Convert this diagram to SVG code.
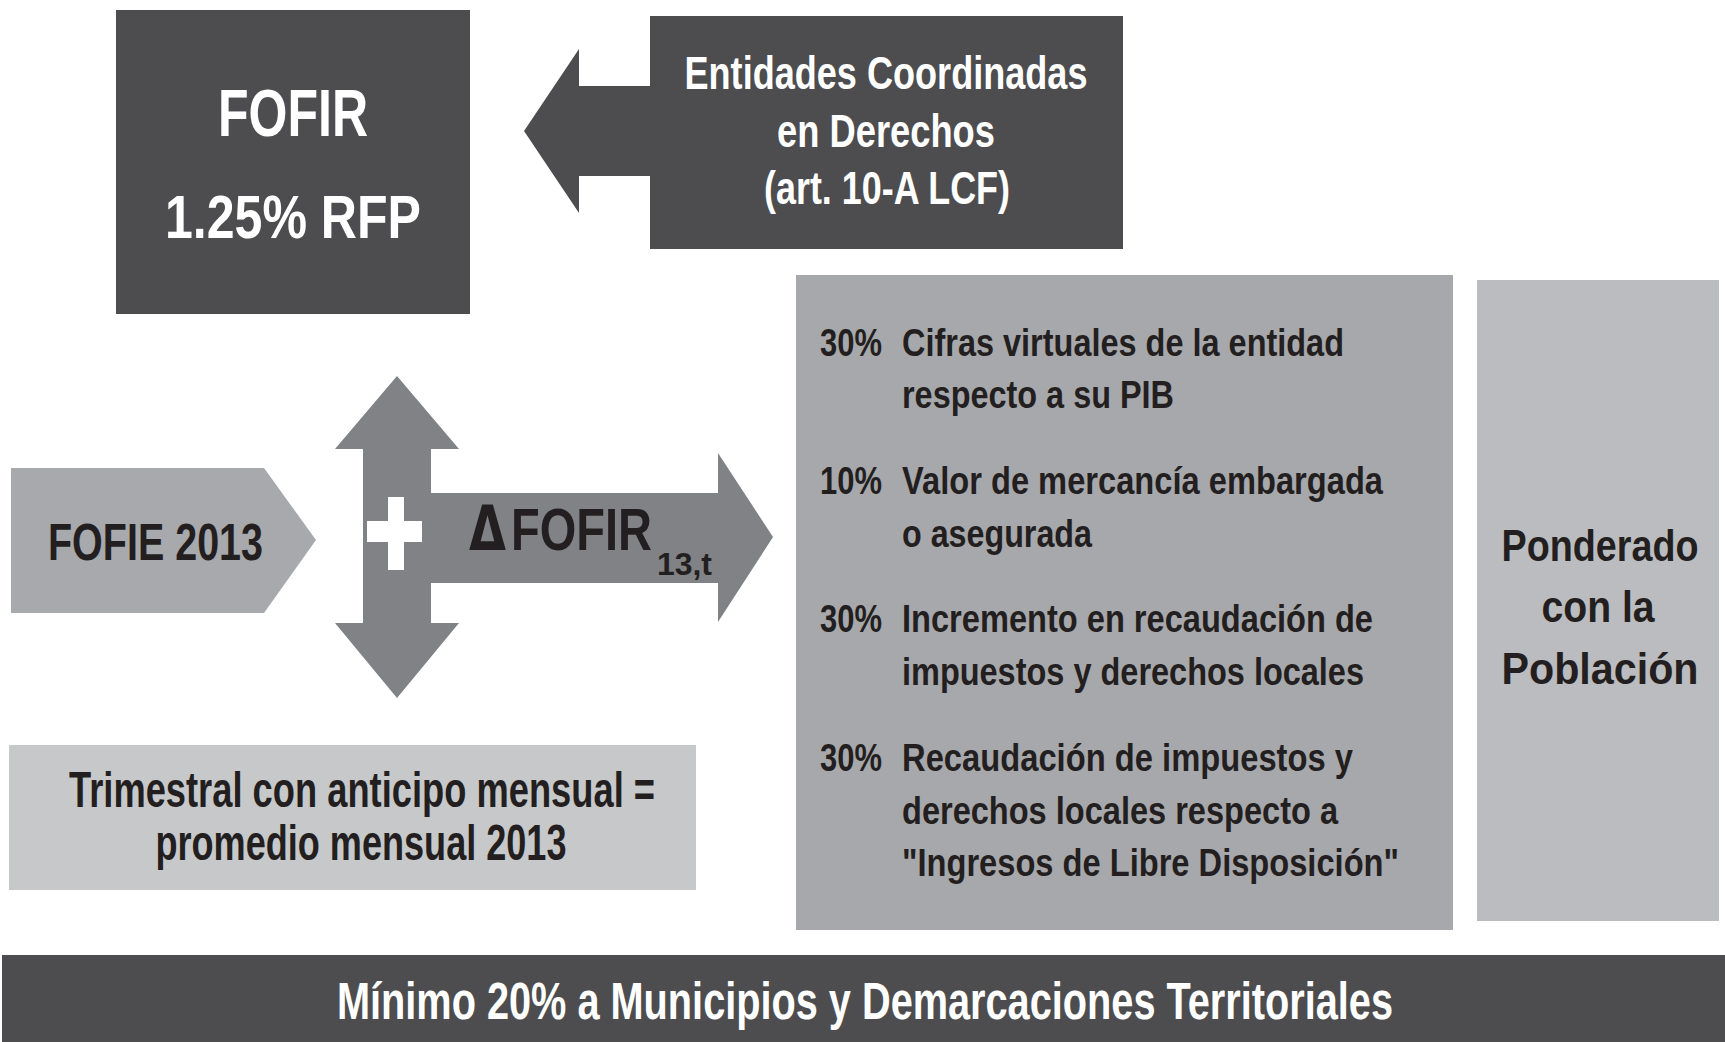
<svg xmlns="http://www.w3.org/2000/svg" width="1725" height="1042" viewBox="0 0 1725 1042">
<style>
.t{font-family:'Liberation Sans Narrow','Liberation Sans',Arial,sans-serif;font-weight:bold}
.m{text-anchor:middle}
.w{fill:#ffffff}
.k{fill:#231f20}
.dk{fill:#4d4d4f}
.arr{fill:#808285}
.b{font-size:39px}
</style>
<rect x="0" y="0" width="1725" height="1042" fill="#ffffff"/>
<g id="connectors">
  <path id="arrow-entidades" class="dk" d="M652,86 H579 V49 L524,131 L579,213 V176 H652 Z"/>
  <path id="arrow-cross" class="arr" d="M397,376 L459,449 H431 V493 H718 V453 L773,537 L718,622 V583 H431 V623 H459 L397,698 L335,623 H363 V449 H335 Z"/>
  <rect class="w" x="388" y="497" width="16" height="73"/>
  <rect class="w" x="367" y="521" width="55" height="21"/>
</g>
<g id="node-fofir">
  <rect class="dk" x="116" y="10" width="354" height="304"/>
  <text class="t w m" x="293" y="136" font-size="66" textLength="150" lengthAdjust="spacingAndGlyphs">FOFIR</text>
  <text class="t w m" x="293" y="238" font-size="62" textLength="256" lengthAdjust="spacingAndGlyphs">1.25% RFP</text>
</g>
<g id="node-entidades">
  <rect class="dk" x="650" y="16" width="473" height="233"/>
  <text class="t w m" x="886" y="89" font-size="46" textLength="403" lengthAdjust="spacingAndGlyphs">Entidades Coordinadas</text>
  <text class="t w m" x="886" y="147" font-size="46" textLength="218" lengthAdjust="spacingAndGlyphs">en Derechos</text>
  <text class="t w m" x="887" y="204" font-size="46" textLength="246" lengthAdjust="spacingAndGlyphs">(art. 10-A LCF)</text>
</g>
<g id="node-fofie">
  <path fill="#a7a9ac" d="M11,468 H264 L316,540 L264,613 H11 Z"/>
  <text class="t k" x="48" y="560" font-size="52" textLength="215" lengthAdjust="spacingAndGlyphs">FOFIE 2013</text>
</g>
<g id="node-delta">
  <text class="t k" y="550" font-size="60"><tspan x="469" font-family="'DejaVu Sans','Liberation Sans',sans-serif" font-size="62" textLength="37" lengthAdjust="spacingAndGlyphs">Δ</tspan><tspan x="511" textLength="141" lengthAdjust="spacingAndGlyphs">FOFIR</tspan><tspan x="657" y="575" font-size="32" textLength="55" lengthAdjust="spacingAndGlyphs">13,t</tspan></text>
</g>
<g id="node-trimestral">
  <rect fill="#c7c8ca" x="9" y="745" width="687" height="145"/>
  <text class="t k m" x="362" y="807" font-size="50" textLength="586" lengthAdjust="spacingAndGlyphs">Trimestral con anticipo mensual =</text>
  <text class="t k m" x="361" y="860" font-size="50" textLength="411" lengthAdjust="spacingAndGlyphs">promedio mensual 2013</text>
</g>
<g id="node-criterios">
  <rect fill="#a7a8ab" x="796" y="275" width="657" height="655"/>
  <g class="t k b">
    <text x="820" y="356" textLength="62" lengthAdjust="spacingAndGlyphs">30%</text>
    <text x="902" y="356" textLength="442" lengthAdjust="spacingAndGlyphs">Cifras virtuales de la entidad</text>
    <text x="902" y="408" textLength="272" lengthAdjust="spacingAndGlyphs">respecto a su PIB</text>
    <text x="820" y="494" textLength="62" lengthAdjust="spacingAndGlyphs">10%</text>
    <text x="902" y="494" textLength="481" lengthAdjust="spacingAndGlyphs">Valor de mercancía embargada</text>
    <text x="902" y="547" textLength="190" lengthAdjust="spacingAndGlyphs">o asegurada</text>
    <text x="820" y="632" textLength="62" lengthAdjust="spacingAndGlyphs">30%</text>
    <text x="902" y="632" textLength="471" lengthAdjust="spacingAndGlyphs">Incremento en recaudación de</text>
    <text x="902" y="685" textLength="462" lengthAdjust="spacingAndGlyphs">impuestos y derechos locales</text>
    <text x="820" y="771" textLength="62" lengthAdjust="spacingAndGlyphs">30%</text>
    <text x="902" y="771" textLength="451" lengthAdjust="spacingAndGlyphs">Recaudación de impuestos y</text>
    <text x="902" y="824" textLength="436" lengthAdjust="spacingAndGlyphs">derechos locales respecto a</text>
    <text x="902" y="876" textLength="497" lengthAdjust="spacingAndGlyphs">"Ingresos de Libre Disposición"</text>
  </g>
</g>
<g id="node-ponderado">
  <rect fill="#bbbcbf" x="1477" y="280" width="242" height="641"/>
  <text class="t k m" x="1600" y="561" font-size="45" textLength="197" lengthAdjust="spacingAndGlyphs">Ponderado</text>
  <text class="t k m" x="1598" y="622" font-size="45" textLength="113" lengthAdjust="spacingAndGlyphs">con la</text>
  <text class="t k m" x="1600" y="684" font-size="45" textLength="197" lengthAdjust="spacingAndGlyphs">Población</text>
</g>
<g id="node-minimo">
  <rect class="dk" x="2" y="955" width="1723" height="87"/>
  <text class="t w" x="337" y="1019" font-size="51" textLength="1056" lengthAdjust="spacingAndGlyphs">Mínimo 20% a Municipios y Demarcaciones Territoriales</text>
</g>
</svg>
